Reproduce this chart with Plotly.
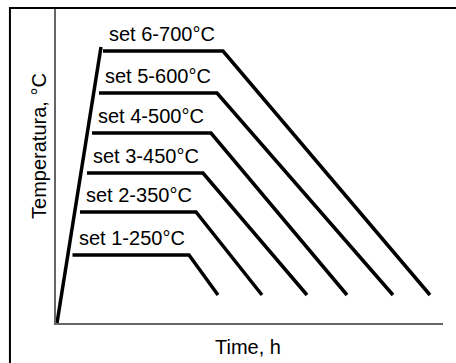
import plotly.graph_objects as go

# schematic heat-treatment cycles (arbitrary time / temperature units)
set_labels = ["set 1-250°C", "set 2-350°C", "set 3-450°C",
              "set 4-500°C", "set 5-600°C", "set 6-700°C"]
hold_level = [68, 111, 150, 190, 230, 272]
hold_start = [16.5, 24, 31, 36, 43, 47]
hold_end = [133, 140, 147, 155, 161, 167]
cool_end = [162, 206, 251, 291, 337, 374]
cool_level = 28

heat_time = [1, 45]
heat_temp = [0, 276]

fig = go.Figure()

# heating ramp
fig.add_trace(go.Scatter(x=heat_time, y=heat_temp, mode="lines",
                         line=dict(color="black", width=3.5)))

# hold + cooling for every set
for i in range(len(set_labels)):
    fig.add_trace(go.Scatter(
        x=[hold_start[i], hold_end[i], cool_end[i]],
        y=[hold_level[i], hold_level[i], cool_level],
        mode="lines", line=dict(color="black", width=3.5)))
    fig.add_annotation(x=hold_start[i], y=hold_level[i], text=set_labels[i],
                       showarrow=False, xanchor="left", yanchor="middle",
                       xshift=4, yshift=17,
                       font=dict(size=20, color="black"))

# axis titles
fig.add_annotation(x=0.496, y=-0.0762, xref="paper", yref="paper",
                   text="Time, h", showarrow=False, xanchor="center", yanchor="middle",
                   font=dict(size=20, color="black"))
fig.add_annotation(x=-0.044, y=0.562, xref="paper", yref="paper",
                   text="Temperatura, °C", showarrow=False, textangle=-90,
                   xanchor="center", yanchor="middle",
                   font=dict(size=20, color="black"))

# outer frame (runs off the right and bottom edges)
fig.add_shape(type="rect", xref="paper", yref="paper",
              x0=-0.119, x1=1.2, y0=-0.3, y1=1.0,
              line=dict(color="black", width=2))

fig.update_xaxes(range=[0, 387], showgrid=False, zeroline=False, showticklabels=False,
                 ticks="", showline=True, linecolor="#666666", linewidth=2)
fig.update_yaxes(range=[0, 315], showgrid=False, zeroline=False, showticklabels=False,
                 ticks="", showline=True, linecolor="#666666", linewidth=2)

fig.update_layout(
    width=456, height=363,
    margin=dict(l=56, r=13, t=8, b=40),
    plot_bgcolor="white", paper_bgcolor="white",
    showlegend=False,
    font=dict(family="Liberation Sans, Arial, sans-serif"),
)

# drop the browser's default 8px body margin so the chart fills the window
fig.write_html("out.html", config={"displayModeBar": False},
               post_script="document.body.style.margin='0';")
